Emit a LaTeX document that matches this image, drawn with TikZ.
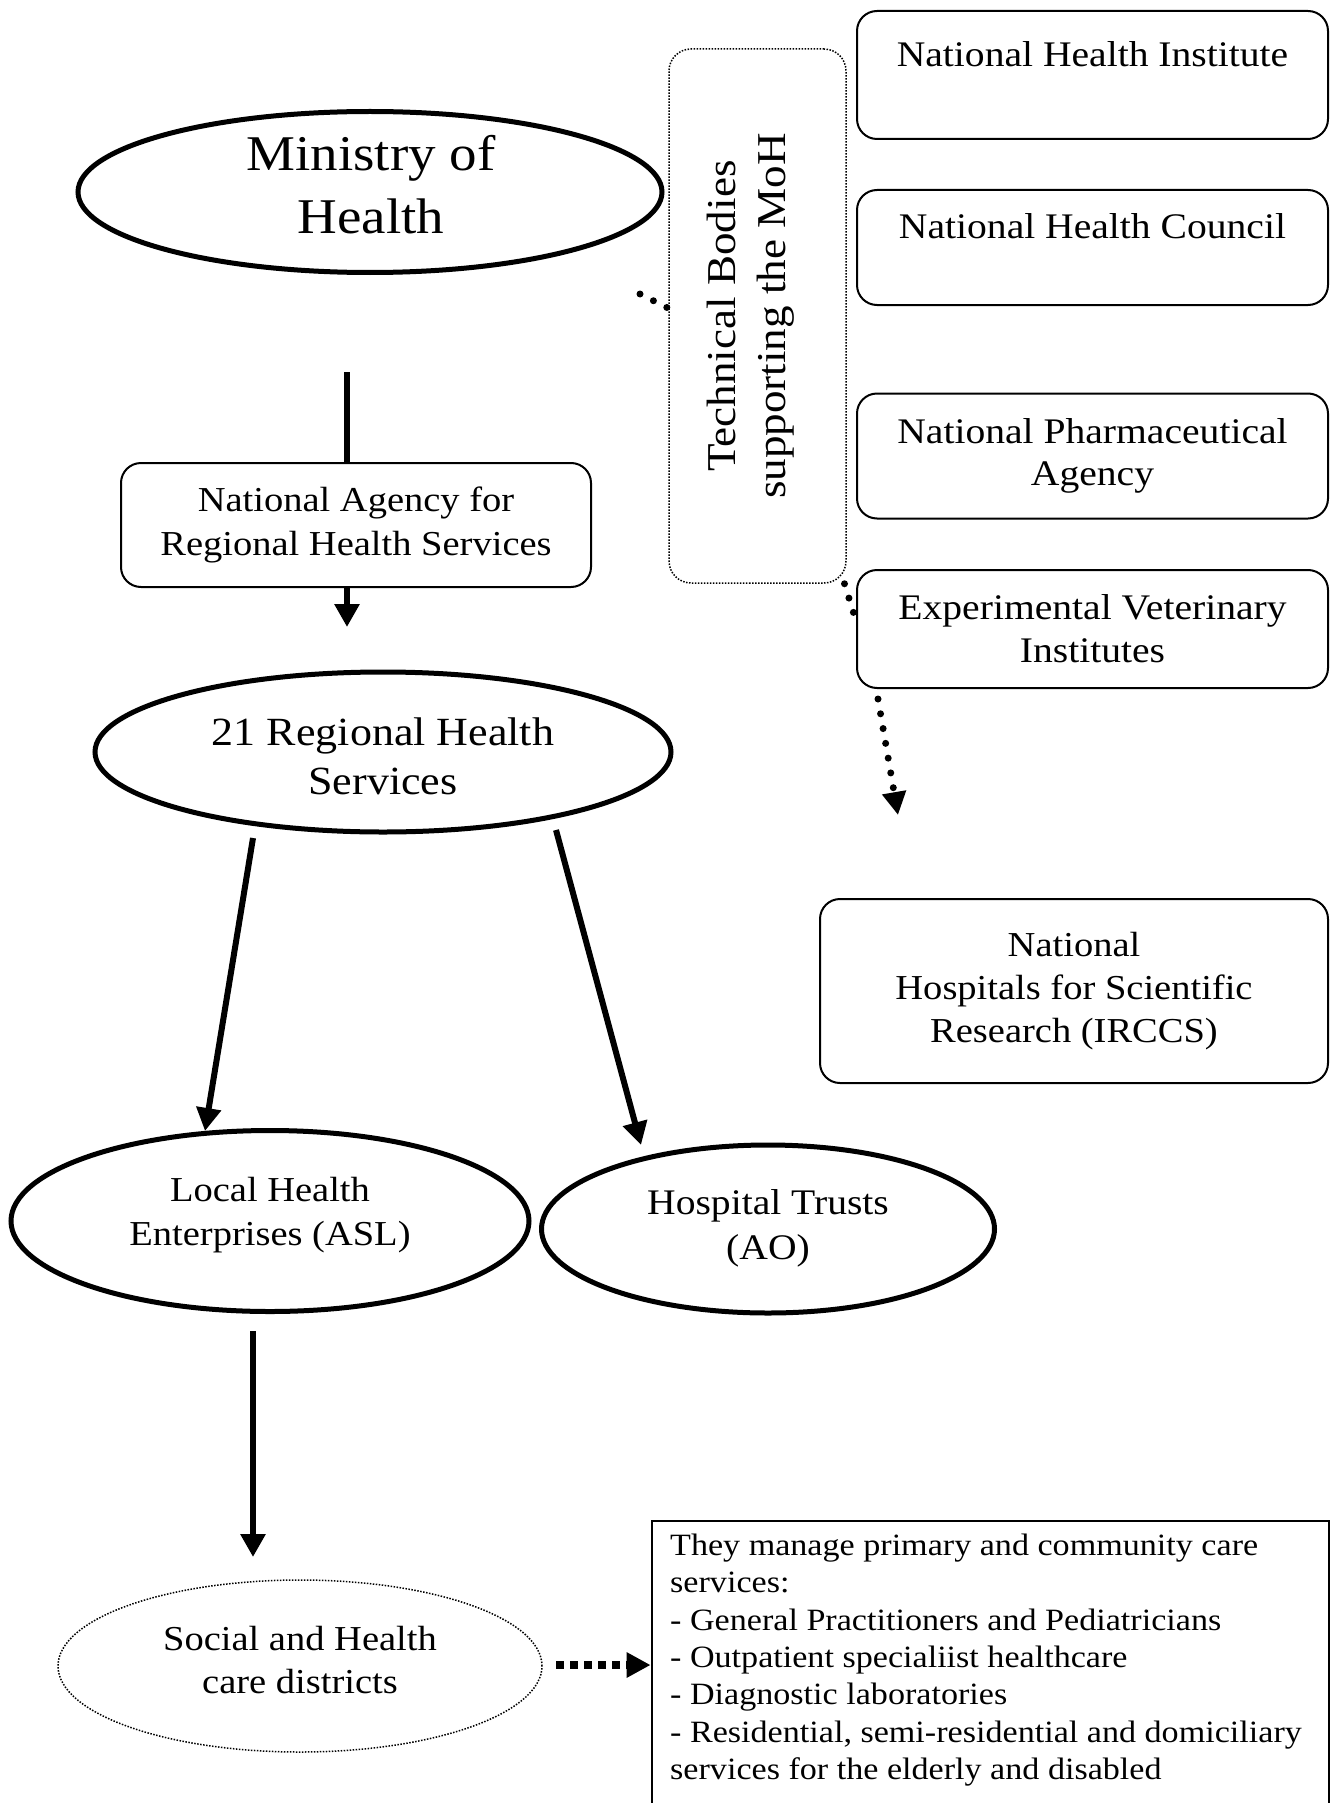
\documentclass[tikz,border=0pt]{standalone}
\usepackage{fontspec}
\setmainfont{Liberation Serif}[FakeStretch=1.1]
\usetikzlibrary{shapes.geometric,arrows.meta,calc}
\newcommand\setfs[2]{\fontsize{#1}{#2}\selectfont}
\begin{document}
\begin{tikzpicture}[x=1pt,y=-1pt,
  ell/.style={draw, ellipse, line width=5pt, inner sep=0pt},
  dotell/.style={draw, ellipse, line width=1.5pt, dash pattern=on 1.5pt off 1.5pt, inner sep=0pt},
  lbl/.style={inner sep=0pt, align=center},
  rbox/.style={draw, rounded corners=20pt, line width=2pt, inner sep=0pt, align=center},
  dotbox/.style={draw, rounded corners=22pt, line width=1.5pt, dash pattern=on 1.5pt off 1.5pt, inner sep=0pt},
  arr/.style={line width=6pt, -{Triangle[width=24pt,length=23pt]}},
  plainline/.style={line width=6pt},
  dotline/.style={line width=7pt, line cap=round, dash pattern=on 0pt off 15pt},
  dotarr/.style={dotline, -{Triangle[width=23pt,length=23pt]}},
  dasharr/.style={line width=8pt, dash pattern=on 8pt off 6pt, -{Triangle[width=24pt,length=24pt]}},
]
\useasboundingbox (0,0) rectangle (1330,1803);

% left column: ellipses and their labels
\node[ell, minimum width=584, minimum height=161] (MoH) at (370,192) {};
\node[lbl, font=\setfs{50}{63}] (MoHt) at (371,184.5) {Ministry of\\Health};
\node[rbox, minimum width=470, minimum height=124, font=\setfs{35}{44}] (NA) at (356,525) {National Agency for\\Regional Health Services};
\node[ell, minimum width=576, minimum height=160] (RHS) at (383,752) {};
\node[lbl, font=\setfs{40}{49}] (RHSt) at (383,756.5) {21 Regional Health\\Services};
\node[ell, minimum width=518, minimum height=181] (LHE) at (270,1221) {};
\node[lbl, font=\setfs{35}{44}] (LHEt) at (270,1215) {Local Health\\Enterprises (ASL)};
\node[ell, minimum width=453, minimum height=168] (HT) at (768,1229) {};
\node[lbl, font=\setfs{36}{45}] (HTt) at (768,1228) {Hospital Trusts\\(AO)};
\node[dotell, minimum width=484, minimum height=172] (SHD) at (300,1666) {};
\node[lbl, font=\setfs{35}{43}] (SHDt) at (300,1660) {Social and Health\\care districts};

% technical bodies
\node[dotbox, minimum width=177, minimum height=534] (TB) at (757.5,316) {};
\node[rotate=90, lbl, font=\setfs{41}{50}] (TBt) at (750.5,316) {Technical Bodies\\supporting the MoH};

% right column
\node[rbox, minimum width=471, minimum height=128, font=\setfs{36}{42}] (NHI) at (1092.5,75) {National Health Institute\\\mbox{}};
\node[rbox, minimum width=471, minimum height=115, font=\setfs{36}{42}] (NHC) at (1092.5,247.5) {National Health Council\\\mbox{}};
\node[rbox, minimum width=471, minimum height=125, font=\setfs{36}{42}] (NPA) at (1092.5,456) {National Pharmaceutical\\Agency};
\node[rbox, minimum width=471, minimum height=118, font=\setfs{36}{43}] (EVI) at (1092.5,629) {Experimental Veterinary\\Institutes};
\node[rbox, minimum width=508, minimum height=184, font=\setfs{35}{43}] (IRC) at (1074,991) {National\\Hospitals for Scientific\\Research (IRCCS)};

% bottom right box
\node[draw, line width=2pt, anchor=north west, minimum width=677.4, minimum height=330, inner sep=0pt] (BR) at (650.6,1520) {};
\node[anchor=north west, inner sep=0pt, align=left, font=\setfs{31}{37.4}] (BRt) at (670,1533.5) {They manage primary and community care\\services:\\- General Practitioners and Pediatricians\\- Outpatient specialiist healthcare\\- Diagnostic laboratories\\- Residential, semi-residential and domiciliary\\services for the elderly and disabled};

% connectors
\coordinate (a1) at (347,372);
\draw[plainline] (a1) -- (a1 |- NA.north);
\draw[arr] (a1 |- NA.south) -- (347,627);
\coordinate (r1) at (253,838);
\coordinate (r2) at (556,830);
\draw[arr] (r1) -- (205,1131);
\draw[arr] (r2) -- (641,1145);
\coordinate (l1) at (253,1331);
\draw[arr] (l1) -- (253,1557);

\coordinate (m1) at (640,294);
\draw[dotline] (m1) -- (TB.175);
\draw[dotline] (TB.-72) -- (EVI.178);
\coordinate (e0) at (878,699);
\coordinate (e1) at (898,815);
\draw[dotarr] (e0) -- (e1);
\coordinate (d0) at (545,1665);
\draw[dasharr, shorten <=11pt] (d0) -- (d0 -| BR.west);
\end{tikzpicture}
\end{document}
